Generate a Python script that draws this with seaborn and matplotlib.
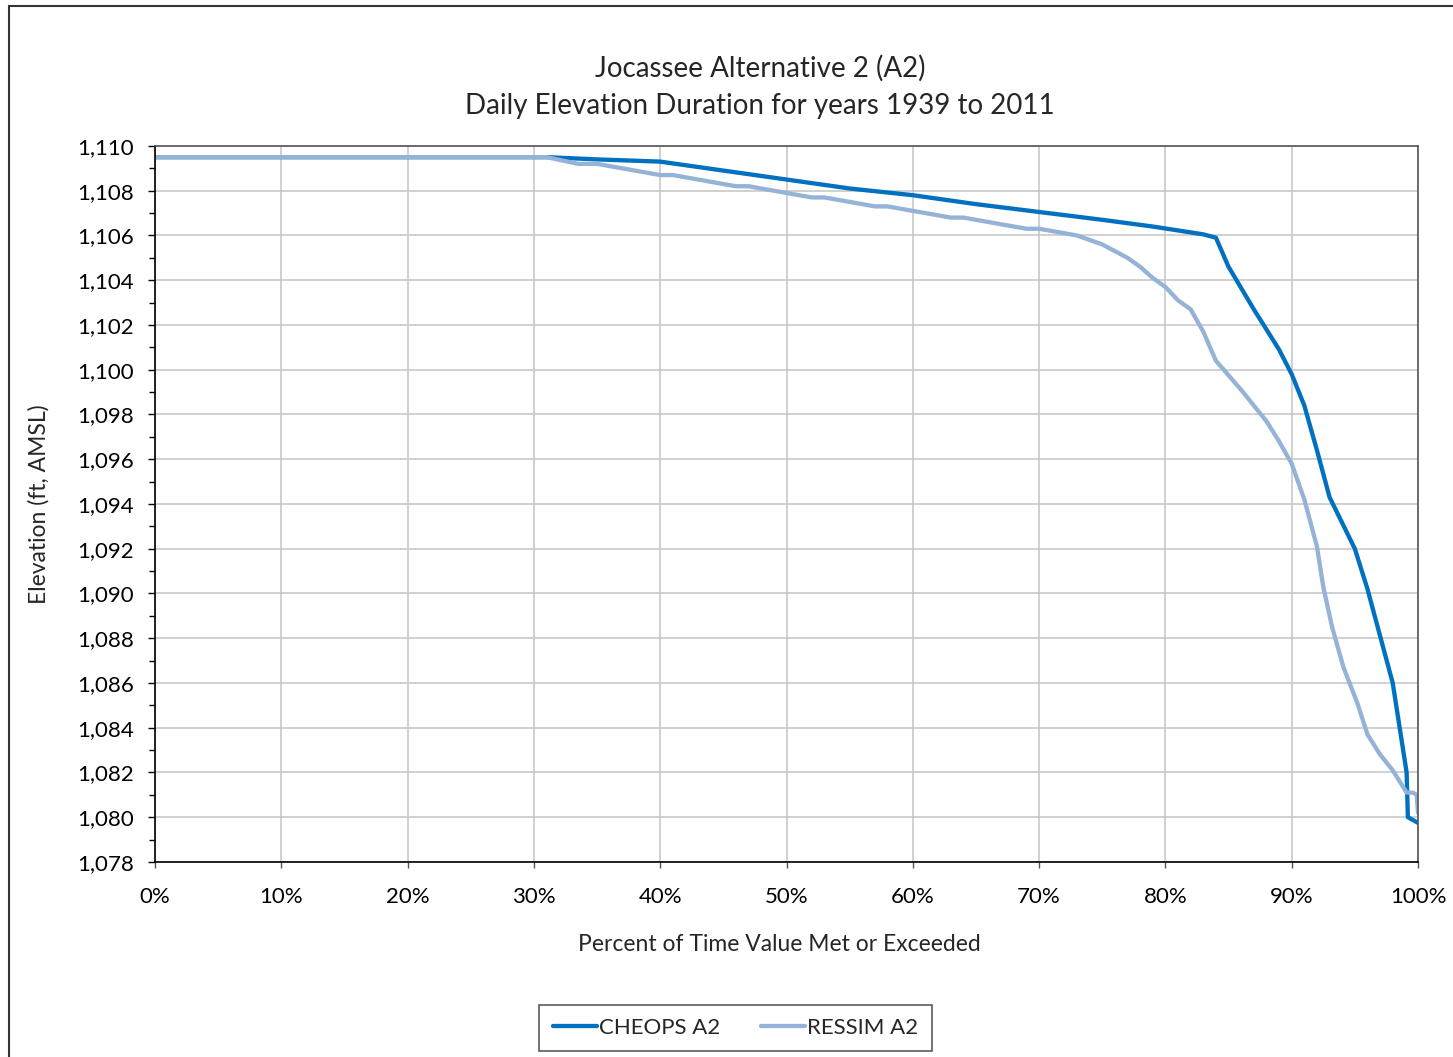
#!/usr/bin/env python3
"""Jocassee Alternative 2 (A2) daily elevation duration curves."""

import matplotlib.pyplot as plt
import numpy as np
import pandas as pd
import seaborn as sns
from matplotlib.patches import Rectangle
from matplotlib.ticker import FuncFormatter, MultipleLocator

# percent of time value met or exceeded
CHEOPS_PCT = [0, 31, 35, 40, 45, 50, 55, 60, 65, 70, 75, 79, 83, 84, 85,
              87, 89, 90, 91, 92, 93, 95, 96, 97, 98, 99.1, 99.2, 100]
CHEOPS_ELEV = [1109.5, 1109.5, 1109.4, 1109.3, 1108.9, 1108.5, 1108.1,
               1107.8, 1107.4, 1107.05, 1106.7, 1106.4, 1106.05, 1105.9,
               1104.6, 1102.7, 1100.9, 1099.8, 1098.4, 1096.4, 1094.3,
               1092.0, 1090.2, 1088.1, 1086.0, 1082.0, 1080.0, 1079.75]

RESSIM_PCT = [0, 31, 33.5, 35, 40, 41, 46, 47, 50, 52, 53, 57, 58, 60, 63,
              64, 69, 70, 73, 75, 77, 78, 79, 80, 81, 82, 83, 84, 86, 88,
              89, 90, 91, 92, 92.5, 93.2, 94.1, 95.2, 96, 97, 98, 99.1,
              99.6, 99.9, 100]
RESSIM_ELEV = [1109.5, 1109.5, 1109.2, 1109.2, 1108.7, 1108.7, 1108.2,
               1108.2, 1107.9, 1107.7, 1107.7, 1107.3, 1107.3, 1107.1,
               1106.8, 1106.8, 1106.3, 1106.3, 1106.0, 1105.6, 1105.0,
               1104.6, 1104.1, 1103.7, 1103.1, 1102.7, 1101.7, 1100.4,
               1099.1, 1097.7, 1096.8, 1095.8, 1094.2, 1092.1, 1090.3,
               1088.5, 1086.7, 1085.1, 1083.7, 1082.8, 1082.1, 1081.1,
               1081.1, 1081.0, 1080.2]

SERIES = ["CHEOPS A2", "RESSIM A2"]
COLORS = ["#0070C0", "#95B3D7"]

df = pd.concat(
    [
        pd.DataFrame({"pct": CHEOPS_PCT, "elev": CHEOPS_ELEV, "series": SERIES[0]}),
        pd.DataFrame({"pct": RESSIM_PCT, "elev": RESSIM_ELEV, "series": SERIES[1]}),
    ],
    ignore_index=True,
)

sns.set_theme(style="whitegrid")
plt.rcParams["font.family"] = ["Lato", "DejaVu Sans"]

fig = plt.figure(figsize=(14.53, 10.57), dpi=100)
ax = fig.add_axes([0.1067, 0.1845, 0.8692, 0.6774])

sns.lineplot(
    data=df,
    x="pct",
    y="elev",
    hue="series",
    hue_order=SERIES,
    palette=COLORS,
    sort=False,
    estimator=None,
    linewidth=3.1,
    ax=ax,
)

ax.set_xlim(0, 100)
ax.set_ylim(1078, 1110)
ax.xaxis.set_major_locator(MultipleLocator(10))
ax.yaxis.set_major_locator(MultipleLocator(2))
ax.yaxis.set_minor_locator(MultipleLocator(1))
ax.xaxis.set_major_formatter(FuncFormatter(lambda v, _: f"{v:.0f}%"))
ax.yaxis.set_major_formatter(FuncFormatter(lambda v, _: f"{v:,.0f}"))
ax.grid(True, which="major", color="#c8c8c8", linewidth=1.2)
ax.tick_params(axis="both", labelsize=16, colors="black")
ax.tick_params(axis="y", which="both", left=True, length=5, width=1,
               color="black", pad=10)
ax.tick_params(axis="y", which="minor", length=4)
ax.tick_params(axis="x", bottom=True, length=4, width=1, color="#555555", pad=14)
for side in ["left", "bottom"]:
    ax.spines[side].set_color("black")
    ax.spines[side].set_linewidth(1.2)
for side in ["top", "right"]:
    ax.spines[side].set_color("#555555")
    ax.spines[side].set_linewidth(1.2)

ax.set_xlabel("Percent of Time Value Met or Exceeded", fontsize=16.5)
ax.xaxis.set_label_coords(0.4945, -0.1)
ax.set_ylabel("Elevation (ft, AMSL)", fontsize=16.5, labelpad=20)
ax.set_title(
    "Jocassee Alternative 2 (A2)\nDaily Elevation Duration for years 1939 to 2011",
    fontsize=20,
    linespacing=1.55,
    pad=23,
    x=0.479,
)

leg = ax.legend(
    loc="center",
    bbox_to_anchor=(0.4596, -0.2318),
    ncol=2,
    fontsize=16,
    frameon=True,
    fancybox=False,
    edgecolor="#333333",
    handlelength=2.0,
    handletextpad=0.1,
    columnspacing=1.8,
    borderpad=0.6,
    borderaxespad=0,
    title=None,
)
leg.get_frame().set_linewidth(1.2)

fig.patches.append(
    Rectangle((9 / 1453, -0.01), 1.1, 1 - 6 / 1057 + 0.01,
              transform=fig.transFigure, fill=False,
              edgecolor="#333333", linewidth=1.5)
)

fig.savefig("out.png", dpi=100)
